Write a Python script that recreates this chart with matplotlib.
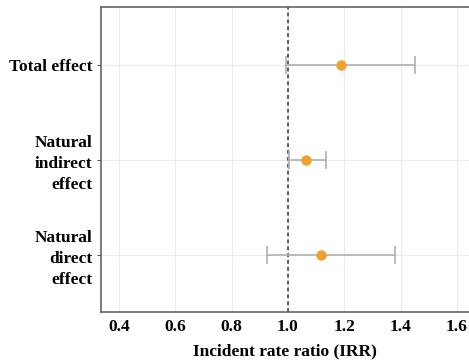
import matplotlib.pyplot as plt

# effect estimates
labels = ['Total effect', 'Natural\nindirect\neffect', 'Natural\ndirect\neffect']
irr = [1.19, 1.063, 1.117]
ci_low = [0.992, 1.003, 0.925]
ci_high = [1.451, 1.136, 1.38]
ypos = [3, 2, 1]
xticks = [0.4, 0.6, 0.8, 1.0, 1.2, 1.4, 1.6]


def main():
	plt.rcParams['font.family'] = ['Liberation Serif', 'DejaVu Serif']
	plt.rcParams['font.weight'] = 'bold'

	fig = plt.figure(figsize=(4.69, 3.61), dpi=100)
	ax = fig.add_axes([0.215, 0.136, 0.785, 0.845])

	# grid
	ax.set_axisbelow(True)
	ax.grid(True, color='#ebebeb', linewidth=0.8)

	# error bars and points
	err = [[m - lo for m, lo in zip(irr, ci_low)], [hi - m for m, hi in zip(irr, ci_high)]]
	ax.errorbar(irr, ypos, xerr=err, fmt='none', ecolor='#b0b0b0',
				elinewidth=1.2, capsize=6.5, capthick=1.2, zorder=2)
	ax.scatter(irr, ypos, s=42, color='#eea12c', zorder=3)

	# reference line at IRR = 1
	ax.axvline(1.0, color='#333333', linestyle=(0, (2.5, 2)), linewidth=1.1, zorder=1)

	ax.set_xlim(0.336, 1.643)
	ax.set_ylim(0.4, 3.61)
	ax.set_xticks(xticks)
	ax.set_xticklabels([f'{t:.1f}' for t in xticks])
	ax.set_yticks(ypos)
	ax.set_yticklabels(labels, ha='right', fontsize=12.5, linespacing=1.4)
	ax.tick_params(axis='x', labelsize=12.5, length=0, pad=5, colors='black')
	ax.tick_params(axis='y', length=3, width=0.8, color='#555555', pad=3)

	for side in ['left', 'bottom', 'top']:
		ax.spines[side].set_color('#666666')
		ax.spines[side].set_linewidth(1.2)
	ax.spines['right'].set_visible(False)

	ax.set_xlabel('Incident rate ratio (IRR)', fontsize=12.5, fontweight='bold', labelpad=6)

	fig.savefig('out.png', dpi=100)


main()
